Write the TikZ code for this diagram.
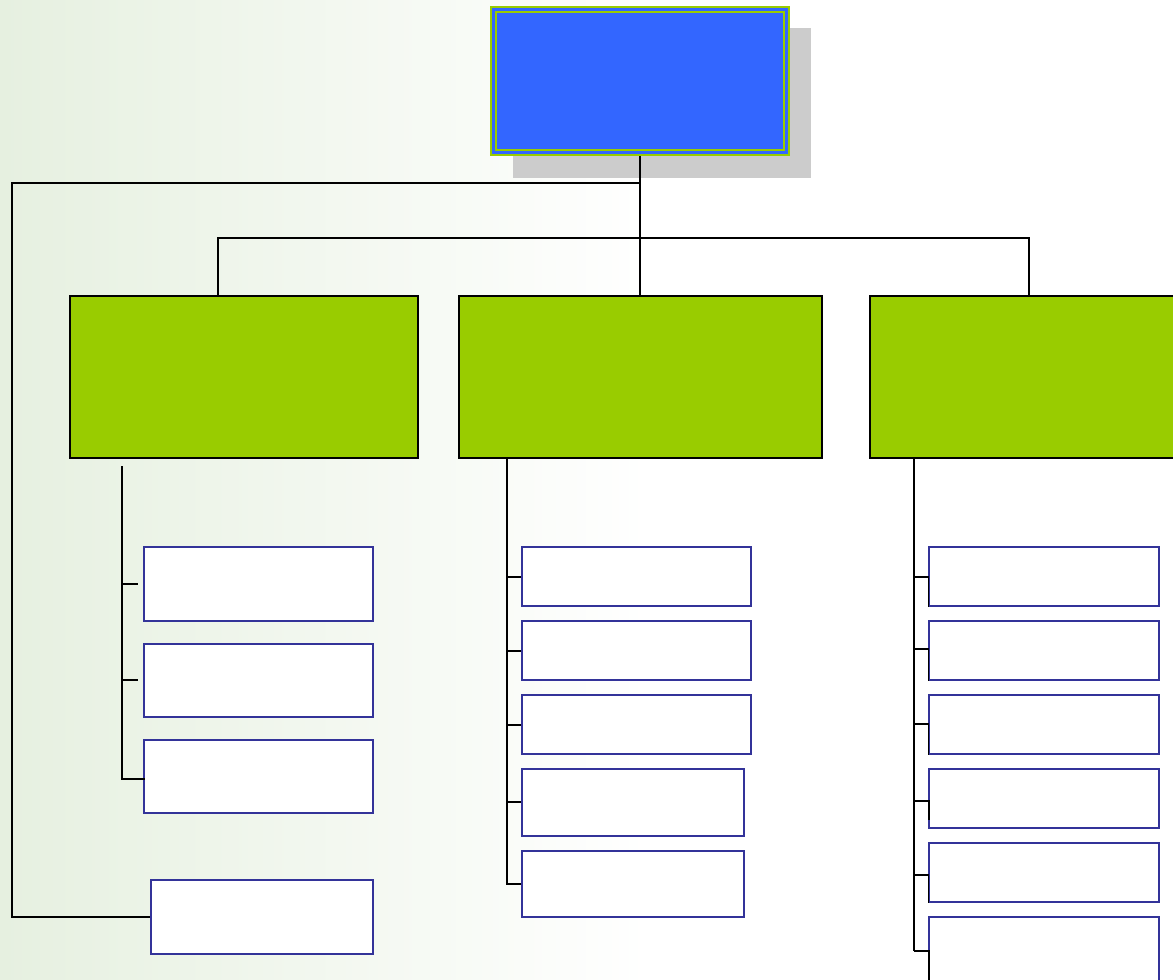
\documentclass[tikz,border=0pt]{standalone}
\usetikzlibrary{fit}
\definecolor{bgg}{RGB}{230,240,224}
\definecolor{topblue}{RGB}{51,102,255}
\definecolor{lime}{RGB}{153,204,0}
\definecolor{shadowg}{RGB}{204,204,204}
\definecolor{boxblue}{RGB}{51,51,153}
\tikzset{
  leaf/.style={draw=boxblue, fill=white, line width=1.3pt, inner sep=0pt},
  grp/.style={draw=black, fill=lime, line width=1.2pt, inner sep=0pt},
  conn/.style={draw=black, line width=1.5pt},
}
\begin{document}
\begin{tikzpicture}[x=1pt,y=-1pt]
\useasboundingbox (0,0) rectangle (1173,980);
\clip (0,0) rectangle (1173,980);
% background
\shade[left color=bgg, right color=white] (0,0) rectangle (650,980);
% top box with shadow
\fill[shadowg] (513,28) rectangle (811,178);
\node[fit={(491,7)(789,155)}, inner sep=0pt, fill=topblue, draw=lime, line width=1.5pt] (top) {};
\draw[lime, line width=1.2pt] (496,12) rectangle (784,150);
% group boxes
\node[grp, fit={(70,296)(418,458)}] (g1) {};
\node[grp, fit={(459,296)(822,458)}] (g2) {};
\node[grp, fit={(870,296)(1190,458)}] (g3) {};
% left leaves
\node[leaf, fit={(144,547)(373,621)}] (a1) {};
\node[leaf, fit={(144,644)(373,717)}] (a2) {};
\node[leaf, fit={(144,740)(373,813)}] (a3) {};
\node[leaf, fit={(151,880)(373,954)}] (x1) {};
% middle leaves
\node[leaf, fit={(522,547)(751,606)}] (b1) {};
\node[leaf, fit={(522,621)(751,680)}] (b2) {};
\node[leaf, fit={(522,695)(751,754)}] (b3) {};
\node[leaf, fit={(522,769)(744,836)}] (b4) {};
\node[leaf, fit={(522,851)(744,917)}] (b5) {};
% right leaves
\node[leaf, fit={(929,547)(1159,606)}] (c1) {};
\node[leaf, fit={(929,621)(1159,680)}] (c2) {};
\node[leaf, fit={(929,695)(1159,754)}] (c3) {};
\node[leaf, fit={(929,769)(1159,828)}] (c4) {};
\node[leaf, fit={(929,843)(1159,902)}] (c5) {};
\node[leaf, fit={(929,917)(1159,1000)}] (c6) {};
% coordinates
\coordinate (hA) at (12,183);
\coordinate (hB) at (218,238);
\coordinate (hC) at (1029,238);
\coordinate (lv) at (122,466);
\coordinate (la1) at (138,584);
\coordinate (la2) at (138,680);
\coordinate (la3) at (145,779);
\coordinate (mv) at (507,458);
\coordinate (s1) at (507,577);
\coordinate (s2) at (507,651);
\coordinate (s3) at (507,725);
\coordinate (s4) at (507,802);
\coordinate (s5) at (507,884);
% connectors top
\draw[conn] (top.south) -- (top.south |- g2.north);
\draw[conn] (top.south) |- (hA) |- (x1.west);
\draw[conn] (g1.north -| hB) -- (hB) -- (hC) -- (g3.north -| hC);
% left branch
\draw[conn] (lv) |- (la3);
\draw[conn] (lv |- la1) -- (la1);
\draw[conn] (lv |- la2) -- (la2);
% middle branch
\draw[conn] (mv) -- (s5) -- (s5 -| b5.west);
\draw[conn] (s1) -- (s1 -| b1.west);
\draw[conn] (s2) -- (s2 -| b2.west);
\draw[conn] (s3) -- (s3 -| b3.west);
\draw[conn] (s4) -- (s4 -| b4.west);
% right branch
\draw[conn] (914,458) -- (914,951);
\draw[conn] (914,577) -| (c1.south west);
\draw[conn] (914,649) -| (c2.south west);
\draw[conn] (914,724) -| (c3.south west);
\draw[conn] (914,801) -| (929,820);
\draw[conn] (914,875) -| (c5.south west);
\draw[conn] (914,951) -| (929,980);
\end{tikzpicture}
\end{document}
